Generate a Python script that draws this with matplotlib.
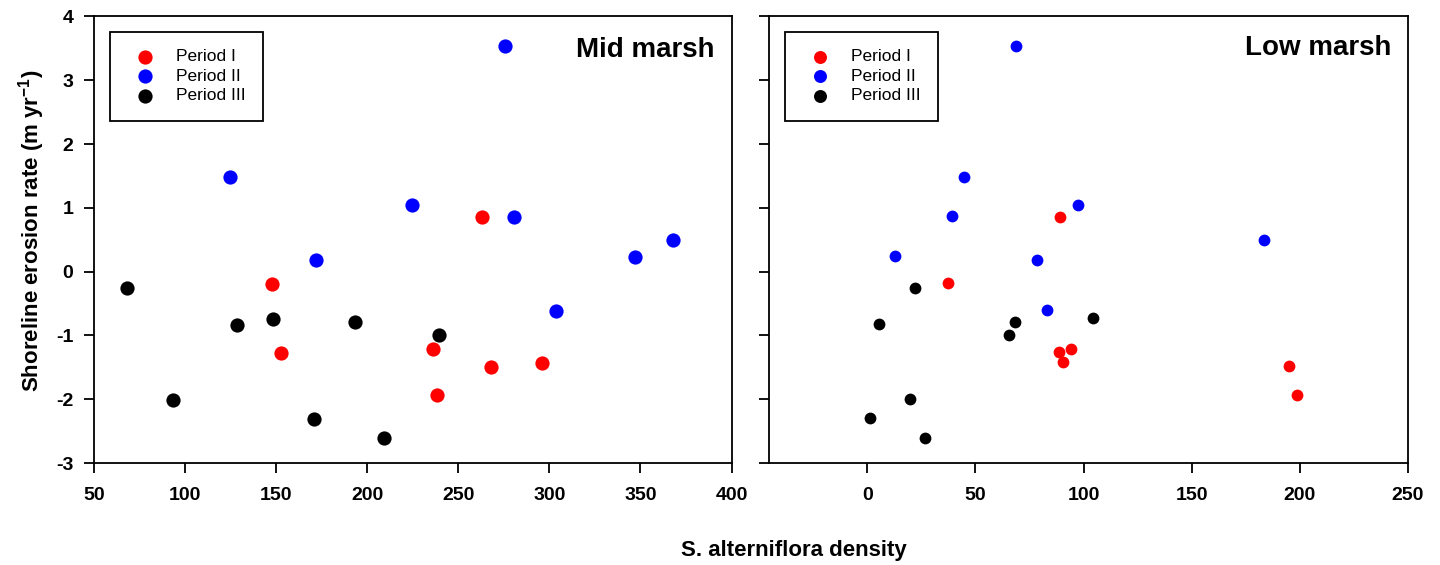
import matplotlib
matplotlib.use("Agg")
import matplotlib.pyplot as plt
import numpy as np

plt.rcParams['font.family'] = ['Liberation Sans', 'DejaVu Sans']
plt.rcParams['mathtext.fontset'] = 'custom'
plt.rcParams['mathtext.bf'] = 'Liberation Sans:bold'
plt.rcParams['mathtext.rm'] = 'Liberation Sans:bold'
plt.rcParams['axes.unicode_minus'] = False

# Mid marsh data (density, erosion rate)
mid_p1_x = [147.6, 152.7, 236.2, 238.5, 263.1, 267.9, 295.9]
mid_p1_y = [-0.19, -1.27, -1.21, -1.94, 0.85, -1.49, -1.43]
mid_p2_x = [124.4, 171.8, 224.8, 275.4, 280.4, 303.5, 346.8, 367.6]
mid_p2_y = [1.48, 0.19, 1.04, 3.53, 0.86, -0.61, 0.23, 0.50]
mid_p3_x = [68.3, 93.3, 128.3, 148.1, 170.5, 193.5, 209.0, 239.6]
mid_p3_y = [-0.25, -2.01, -0.83, -0.74, -2.31, -0.79, -2.61, -0.99]

# Low marsh data
low_p1_x = [37.1, 88.9, 88.5, 90.3, 94.0, 195.0, 198.5]
low_p1_y = [-0.18, 0.85, -1.26, -1.42, -1.21, -1.48, -1.93]
low_p2_x = [68.6, 44.5, 39.0, 97.5, 12.9, 78.4, 82.9, 183.5]
low_p2_y = [3.53, 1.49, 0.87, 1.04, 0.24, 0.19, -0.60, 0.50]
low_p3_x = [22.2, 5.5, 68.1, 65.7, 104.5, 19.7, 1.4, 26.7]
low_p3_y = [-0.25, -0.82, -0.79, -0.99, -0.73, -2.00, -2.30, -2.60]

labels = ['Period I', 'Period II', 'Period III']
colors = ['#ff0000', '#0000ff', '#000000']

fig = plt.figure(figsize=(14.4, 5.65), dpi=100)
ax1 = fig.add_axes([0.0653, 0.1805, 0.4427, 0.7903])
ax2 = fig.add_axes([0.534, 0.1805, 0.4438, 0.7903])

mid = [(mid_p1_x, mid_p1_y), (mid_p2_x, mid_p2_y), (mid_p3_x, mid_p3_y)]
low = [(low_p1_x, low_p1_y), (low_p2_x, low_p2_y), (low_p3_x, low_p3_y)]

for (x, y), lab, c in zip(mid, labels, colors):
    ax1.scatter(x, y, s=105, color=c, label=lab, linewidths=0, zorder=3)
for (x, y), lab, c in zip(low, labels, colors):
    ax2.scatter(x, y, s=72, color=c, label=lab, linewidths=0, zorder=3)

ax1.set_xlim(50, 400)
ax1.set_xticks(np.arange(50, 401, 50))
ax2.set_xlim(-45.5, 250)
ax2.set_xticks(np.arange(0, 251, 50))
for ax in (ax1, ax2):
    ax.set_ylim(-3, 4)
    ax.set_yticks(np.arange(-3, 5, 1))
    for sp in ax.spines.values():
        sp.set_linewidth(1.3)
    ax.tick_params(direction='out', length=7, width=1.3, labelsize=14,
                   top=False, right=False)
    ax.tick_params(axis='x', pad=10)
    ax.tick_params(axis='y', pad=8)
    for t in ax.get_xticklabels() + ax.get_yticklabels():
        t.set_fontweight('bold')
ax2.set_yticklabels([])

ax1.text(0.974, 0.955, 'Mid marsh', transform=ax1.transAxes, ha='right',
         va='top', fontsize=20, fontweight='bold')
ax2.text(0.974, 0.958, 'Low marsh', transform=ax2.transAxes, ha='right',
         va='top', fontsize=20, fontweight='bold')

leg1 = ax1.legend(loc='upper left', bbox_to_anchor=(0.025, 0.966),
                  borderaxespad=0, fontsize=12.5, frameon=True, fancybox=False,
                  edgecolor='black', borderpad=1.0, handletextpad=0.8,
                  labelspacing=0.25, markerscale=1.0)
leg2 = ax2.legend(loc='upper left', bbox_to_anchor=(0.025, 0.966),
                  borderaxespad=0, fontsize=12.5, frameon=True, fancybox=False,
                  edgecolor='black', borderpad=1.0, handletextpad=0.8,
                  labelspacing=0.25, markerscale=1.1)
for leg in (leg1, leg2):
    leg.get_frame().set_linewidth(1.3)
    leg.get_frame().set_alpha(1)

fig.text(0.022, 0.591, r'Shoreline erosion rate (m yr$^{\mathbf{-1}}$)',
         rotation=90, ha='center', va='center', fontsize=16, fontweight='bold')
fig.text(0.551, 0.025, 'S. alterniflora density', ha='center', va='center',
         fontsize=16, fontweight='bold')

fig.savefig('out.png', dpi=100)
